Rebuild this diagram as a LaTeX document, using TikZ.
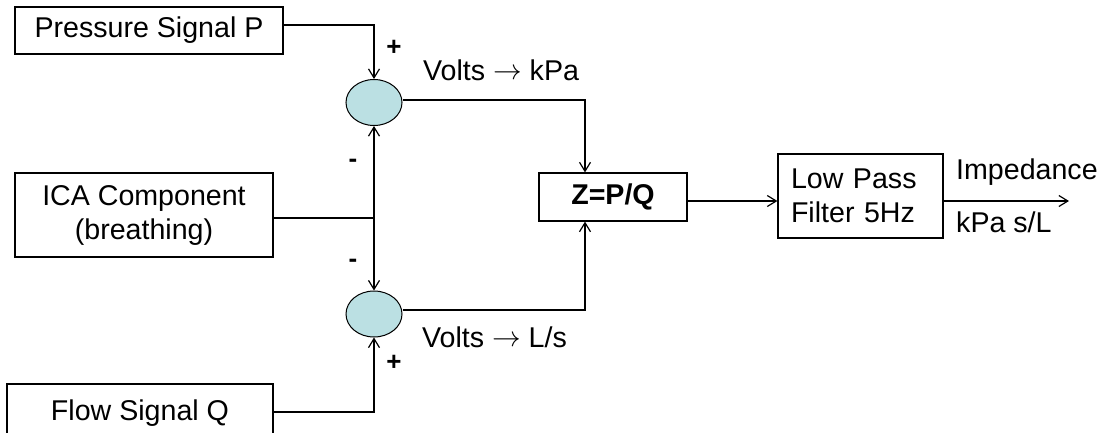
\documentclass[tikz,border=0pt]{standalone}
\usepackage{fontspec}
\usepackage{graphicx}
\setmainfont{Liberation Sans}
\usetikzlibrary{shapes.geometric,arrows.meta}
\definecolor{sumfill}{HTML}{BBE0E3}
\newcommand{\sigarrow}{\raisebox{0.5pt}{\scalebox{1.15}{$\rightarrow$}}}
\begin{document}
\begin{tikzpicture}[x=1pt,y=-1pt,
  font=\fontsize{28.6}{34}\selectfont,
  box/.style={draw,line width=1.2pt,rectangle,inner sep=0pt,align=center},
  sumnode/.style={draw,line width=1pt,ellipse,fill=sumfill,inner sep=0pt,minimum width=56pt,minimum height=46pt},
  wire/.style={line width=1.2pt},
  arr/.style={wire,-{Straight Barb[length=9pt,width=11pt,line width=1.2pt]}},
  biarr/.style={wire,{Straight Barb[length=9pt,width=11pt,line width=1.2pt]}-{Straight Barb[length=9pt,width=11pt,line width=1.2pt]}},
  lbl/.style={inner sep=0pt,anchor=west},
  sign/.style={inner sep=0pt,font=\fontsize{26}{30}\selectfont\bfseries}]
\useasboundingbox (0,0) rectangle (1104,432);
\clip (0,0) rectangle (1104,432);
\fill[white] (0,0) rectangle (1104,432);
% boxes
\node[box,minimum width=268pt,minimum height=47pt] (P) at (149,30.5) {Pressure Signal P};
\node[box,minimum width=258pt,minimum height=84pt] (I) at (144,215) {ICA Component\\(breathing)};
\node[box,minimum width=266pt,minimum height=58pt] (F) at (140,413) {Flow Signal Q};
\node[box,minimum width=148pt,minimum height=48pt,font=\fontsize{28.6}{34}\selectfont\bfseries] (Z) at (613,197) {Z=P/Q};
\node[box,inner xsep=13pt,text width=139pt,minimum height=84pt,align=left] (L) at (860.5,196) {Low Pass\\Filter 5Hz};
% summing junctions
\node[sumnode] (s1) at (374,102.5) {};
\node[sumnode] (s2) at (374,314) {};
\coordinate (out) at (1069,201);
% connectors
\draw[arr] ([yshift=5.5pt]P.east) -| (s1.north);
\draw[wire] ([yshift=-3pt]I.east) -- ([yshift=-3pt]I.east -| s1.south);
\draw[biarr] (s1.south) -- (s2.north);
\draw[arr] ([yshift=1pt]F.east) -| (s2.south);
\draw[arr] ([yshift=2.5pt]s1.east) -| ([xshift=-28pt]Z.north);
\draw[arr] ([yshift=4pt]s2.east) -| ([xshift=-28pt]Z.south);
\draw[arr] ([yshift=-4pt]Z.east) -- ([yshift=-4pt]Z.east -| L.west);
\draw[arr] ([yshift=-5pt]L.east) -- (out);
% labels
\node[sign] (p1) at (394,48) {+};
\node[sign] (m1) at (353,163) {-};
\node[sign] (m2) at (353,263) {-};
\node[sign] (p2) at (394,363) {+};
\node[lbl] (vk) at (423,70) {Volts \sigarrow{} kPa};
\node[lbl] (vl) at (422,337) {Volts \sigarrow{} L/s};
\node[lbl] (imp) at (956,172) {Impedance};
\node[lbl] (unit) at (956,222) {kPa s/L};
\end{tikzpicture}
\end{document}
